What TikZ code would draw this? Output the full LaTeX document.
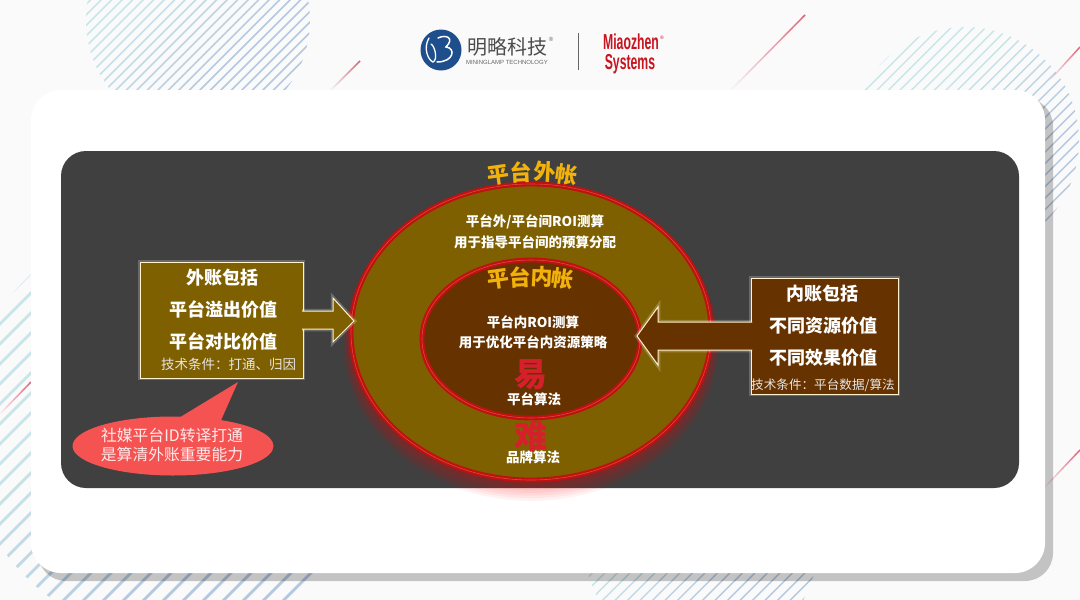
\documentclass[tikz,border=0pt]{standalone}
\usepackage{fontspec}
\setmainfont{Noto Sans CJK SC}
\newfontfamily\latinfont{Liberation Sans}
\usetikzlibrary{shapes.geometric,shapes.callouts,fadings}

\definecolor{pagegray}{HTML}{FAFAFB}
\definecolor{panelgray}{HTML}{404040}
\definecolor{hatchblue}{HTML}{B4C8DF}
\definecolor{hatchteal}{HTML}{C8E6EA}
\definecolor{slashred}{HTML}{DC6478}
\definecolor{outerfill}{HTML}{7F6000}
\definecolor{innerfill}{HTML}{663300}
\definecolor{ringred}{HTML}{C01010}
\definecolor{ringpale}{HTML}{D84A3C}
\definecolor{titlegold}{HTML}{F2B20C}
\definecolor{hardred}{HTML}{D5202C}
\definecolor{bubblered}{HTML}{F55252}
\definecolor{boxline}{HTML}{FFF2CC}
\definecolor{logoblue}{HTML}{1F4E8C}
\definecolor{logored}{HTML}{C8141E}

\tikzset{
  every node/.style={inner sep=0pt, outer sep=0pt},
  ring/.style={ellipse, draw=ringred, line width=2.1pt, double=ringpale, double distance=.6pt},
  sidebox/.style={draw=boxline, line width=1pt, preaction={draw=white, draw opacity=.22, line width=4.5pt}},
  headtext/.style={text=white, font=\bfseries\fontsize{18}{20}\selectfont},
  smalltext/.style={text=white, font=\bfseries\fontsize{13.5}{15}\selectfont},
  notetext/.style={text=white!90!black, font=\fontsize{13.5}{15}\selectfont},
  bubbletext/.style={text=white!92!red, font=\fontsize{15.8}{18}\selectfont},
  bigtext/.style={text=hardred, font=\bfseries\fontsize{33}{35}\selectfont},
  titletext/.style={text=titlegold, font=\bfseries\fontsize{22}{24}\selectfont},
  slash/.style={draw=slashred, line width=1.5pt, path fading=south},
  logotext/.style={text=logored, xscale=.68, yscale=1.2, font=\latinfont\bfseries\fontsize{18}{20}\selectfont},
}

\newcommand{\hatchblob}[5]{%
  \begin{scope}
  \clip (#1,#2) circle (#3);
  \pgfmathsetmacro{\hfirst}{-1.42*#3}
  \pgfmathsetmacro{\hsecond}{\hfirst+#4}
  \pgfmathsetmacro{\hlast}{1.42*#3}
  \foreach \s [evaluate=\s as \mix using {max(0,min(100,50+110*(\s/(1.42*#3))))}] in {\hfirst,\hsecond,...,\hlast}
    \draw[hatchblue!\mix!hatchteal, line width=#5] (#1+\s-#3-20,#2+#3+20) -- (#1+\s+#3+20,#2-#3-20);
  \end{scope}}

\begin{document}
\begin{tikzpicture}[x=1pt,y=-1pt]
\fill[pagegray] (0,0) rectangle (1080,600);
\useasboundingbox (0,0) rectangle (1080,600);

\hatchblob{198}{20}{112}{10.5}{1.5pt}
\hatchblob{965}{141}{114}{11.5}{1.5pt}
\hatchblob{174}{428}{210}{20}{2.8pt}
\hatchblob{701}{543}{117}{12.5}{1.5pt}

\draw[slash] (360,61) -- (331,90);
\draw[slash] (805,15) -- (731,90);
\draw[slash] (1080,47) -- (1050,80);
\draw[slash] (1080,450) -- (1044,488);
\draw[slash] (31,382) -- (0,414);

\fill[black, opacity=.22, rounded corners=28pt] (38,98) rectangle (1053,581);
\fill[white, rounded corners=30pt] (31,90) rectangle (1045,573);
\fill[panelgray, rounded corners=25pt] (61,151) rectangle (1019,488);

\foreach \g in {16,14,...,2}
  \fill[red, opacity=.05] (531,{332+.7*\g}) ellipse ({180+\g*.5} and {148+\g*.6});

\node[ring, fill=outerfill, minimum width=360pt, minimum height=296pt] (outerring) at (531,332) {};
\node[ring, fill=innerfill, minimum width=218pt, minimum height=158pt] (innerring) at (531,339) {};

\foreach \n/\px/\py/\a/\t in {1/498/175/8/平,2/521/172/3/台,3/545/172/-3/外,4/567/175/-8/帐}
  \node[titletext, rotate=\a] (outertitle\n) at (\px,\py) {\t};
\foreach \n/\px/\py/\a/\t in {1/498/279/8/平,2/520/277/3/台,3/542/277/-3/内,4/563/279/-8/帐}
  \node[titletext, rotate=\a] (innertitle\n) at (\px,\py) {\t};

\node[smalltext] (outerone) at (535,222) {平台外/平台间ROI测算};
\node[smalltext] (outertwo) at (535,242) {用于指导平台间的预算分配};
\node[smalltext] (innerone) at (533,322) {平台内ROI测算};
\node[smalltext] (innertwo) at (533,342) {用于优化平台内资源策略};
\node[bigtext] (easy) at (531,375) {易};
\node[smalltext] (easyalgo) at (534,399) {平台算法};
\node[bigtext] (hard) at (531,436) {难};
\node[smalltext] (hardalgo) at (533,457) {品牌算法};

\node[sidebox, fill=outerfill, minimum width=163pt, minimum height=116pt] (outerbox) at (221.5,320) {};
\draw[sidebox, fill=outerfill] ([xshift=-1pt,yshift=9pt]outerbox.east) -- (333,311) -- (333,298) -- (354,321) -- (333,342) -- (333,329) -- ([xshift=-1pt,yshift=-9pt]outerbox.east);
\node[headtext] (outerhead) at (222,278) {外账包括};
\node[headtext] (outerspill) at (223,310) {平台溢出价值};
\node[headtext] (outercompare) at (223,342) {平台对比价值};
\node[notetext] (outernote) at (228.5,364) {技术条件：打通、归因};

\node[sidebox, fill=innerfill, minimum width=147pt, minimum height=116pt] (innerbox) at (824.5,336) {};
\draw[sidebox, fill=innerfill] ([xshift=1pt,yshift=14pt]innerbox.west) -- (658,322) -- (658,307) -- (637,336) -- (658,365) -- (658,350) -- ([xshift=1pt,yshift=-14pt]innerbox.west);
\node[headtext] (innerhead) at (822,294) {内账包括};
\node[headtext] (innerres) at (823,326) {不同资源价值};
\node[headtext] (innereffect) at (823,358) {不同效果价值};
\node[notetext, font=\fontsize{12.6}{14}\selectfont] (innernote) at (823,385) {技术条件：平台数据/算法};

\node[ellipse callout, fill=bubblered, minimum width=201pt, minimum height=59pt, callout absolute pointer={(238,382)}, callout pointer arc=24] (bubble) at (173,446) {};
\node[bubbletext] (bubbleone) at (172,435) {社媒平台ID转译打通};
\node[bubbletext] (bubbletwo) at (172,454) {是算清外账重要能力};

\node[circle, fill=logoblue, minimum size=41pt] (logomark) at (441,50) {};
\draw[white, line width=1.3pt, line cap=round] (429,38) .. controls (423,48) and (428,60) .. (433,62) .. controls (438,60) and (435,46) .. (431,44);
\draw[white, line width=1.5pt, line cap=round] (438,38) .. controls (446,34) and (455,38) .. (446,47) .. controls (456,48) and (454,62) .. (437,62);
\node[text=black!70, font=\fontsize{20}{22}\selectfont] (logoname) at (507,47) {明略科技};
\node[text=black!60, font=\latinfont\fontsize{6}{7}\selectfont] (logosmall) at (507,62) {MININGLAMP TECHNOLOGY};
\node[text=black!60, font=\latinfont\fontsize{6}{7}\selectfont] (logoreg) at (551,39) {®};
\node[minimum height=37pt] (logosep) at (578,51.5) {};
\draw[black!60, line width=1pt] (logosep.north) -- (logosep.south);
\node[logotext] (miaozhen) at (631,42) {Miaozhen};
\node[logotext] (systems) at (630,64) {Systems};
\node[text=logored, font=\latinfont\fontsize{5}{6}\selectfont] (miaoreg) at (662,38) {®};
\end{tikzpicture}
\end{document}
